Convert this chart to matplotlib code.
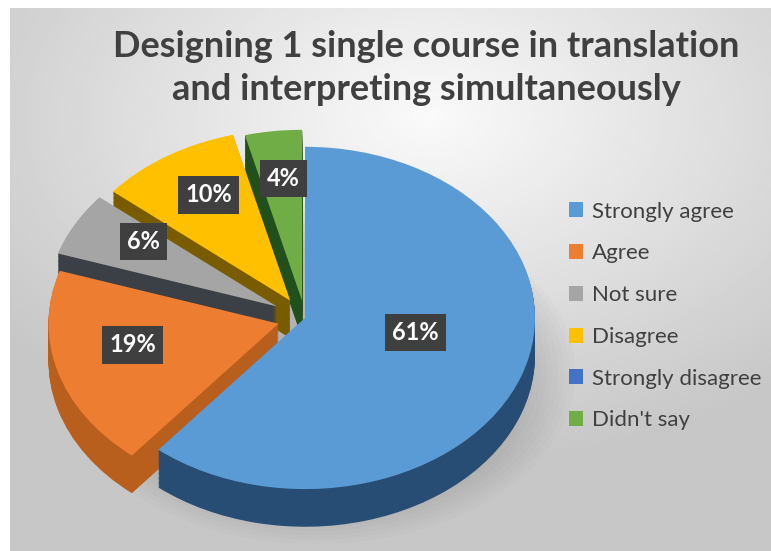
import numpy as np
import matplotlib.pyplot as plt
from matplotlib.patches import Ellipse

labels = ["Strongly agree", "Agree", "Not sure", "Disagree", "Strongly disagree", "Didn't say"]
values = [61, 19, 6, 10, 0, 4]
top_colors = ["#5b9bd5", "#ed7d31", "#a5a5a5", "#ffc000", "#4472c4", "#70ad47"]
side_colors = ["#284d75", "#b95f1e", "#3b3f46", "#7a5c00", "#2f528f", "#22501c"]
explode = [0, 0.12, 0.14, 0.12, 0.1, 0.1]
title = "Designing 1 single course in translation\nand interpreting simultaneously"

plt.rcParams['font.family'] = ['Lato', 'DejaVu Sans']

W, H = 771, 551
fig = plt.figure(figsize=(W / 100, H / 100), dpi=100)

# gradient background (light near top centre, greyer at the edges)
bg = fig.add_axes([10 / W, 0, 1 - 10 / W, 1 - 8 / H])
yy, xx = np.mgrid[0:1:220j, 0:1:320j]
r = np.sqrt(((xx - 0.55) / 1.0) ** 2 + ((yy - 0.8) / 0.9) ** 2)
shade = np.clip(0.98 - 0.28 * r, 0.78, 1)
bg.imshow(shade, cmap="gray", vmin=0, vmax=1, origin="lower",
          extent=(0, 1, 0, 1), aspect="auto")
bg.axis("off")

# pie axes: the ellipse comes from unequal x / y scaling
ax = fig.add_axes([6 / W, 2 / H, 621 / W, 445 / H])
ax.patch.set_alpha(0)

# soft shadow under the pie
for i in range(12):
    ax.add_patch(Ellipse((0.05, -0.32), 2.25 - i * 0.05, 2.0 - i * 0.05,
                         color="#555555", alpha=0.025, lw=0))

# side walls: the same pie stacked downward in darker colours
depth = 0.22
for k in np.linspace(depth, 0.005, 30):
    ax.pie(values, colors=side_colors, explode=explode, startangle=90,
           counterclock=False, center=(0, -k), wedgeprops=dict(linewidth=0))

def pct(p):
    return "%d%%" % round(p) if p > 0.5 else ""

wedges, texts, autotexts = ax.pie(
    values, colors=top_colors, explode=explode, startangle=90,
    counterclock=False, autopct=pct, pctdistance=0.66,
    wedgeprops=dict(linewidth=0),
    textprops=dict(color="white", fontsize=17, fontweight="bold",
                   bbox=dict(boxstyle="square,pad=0.3", fc="#3f3f3f", ec="none")))
# nudge labels to follow the tilted view
for i, t in enumerate(autotexts):
    x, y = t.get_position()
    if i == 0:
        t.set_position((x - 0.14, y + 0.14))
    else:
        t.set_position((x, y + 0.06))

ax.set_aspect("auto")
ax.set_xlim(-1.3, 1.4)
ax.set_ylim(-1.35, 1.25)
ax.axis("off")

fig.text(426 / W, 1 - 68 / H, title, ha="center", va="center", fontsize=26,
         fontweight="bold", color="#404040", linespacing=1.36)

leg = fig.legend(wedges, labels, loc="center left",
                 bbox_to_anchor=(549 / W, 1 - 316 / H), frameon=False,
                 handlelength=0.65, handleheight=0.65, handletextpad=0.4,
                 labelspacing=0.98, fontsize=16)
for t in leg.get_texts():
    t.set_color("#404040")

fig.savefig("out.png", dpi=100)
